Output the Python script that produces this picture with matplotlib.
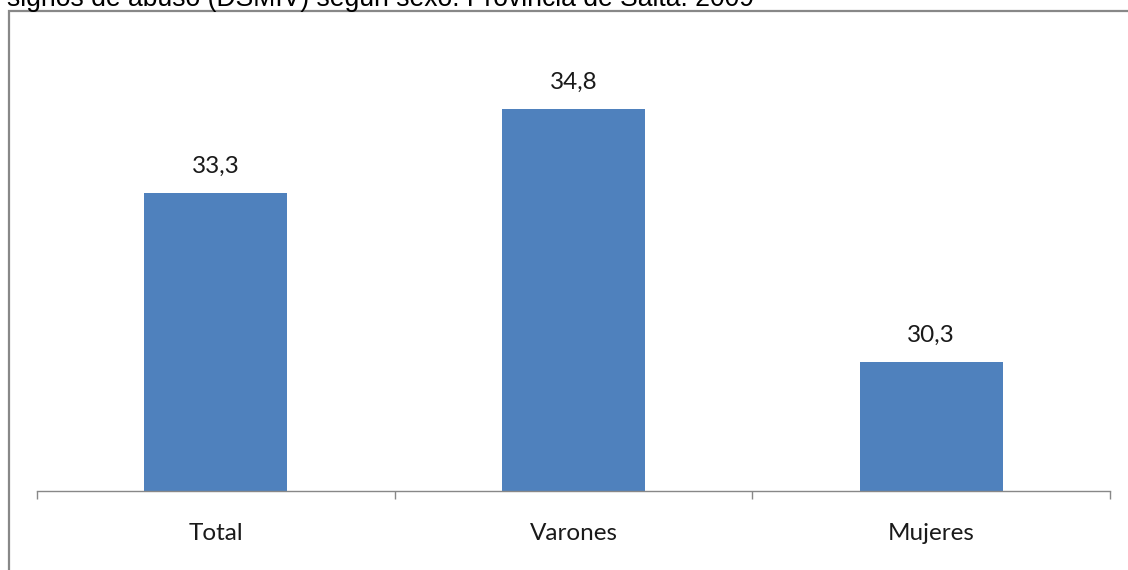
import matplotlib
matplotlib.use("Agg")
import matplotlib.pyplot as plt
from matplotlib.patches import Rectangle

categories = ["Total", "Varones", "Mujeres"]
values = [33.3, 34.8, 30.3]
value_labels = ["33,3", "34,8", "30,3"]
title_text = "signos de abuso (DSMIV) según sexo. Provincia de Salta. 2009"

W, H = 1128, 570
fig = plt.figure(figsize=(W / 100, H / 100), dpi=100)
fig.patch.set_facecolor("white")

# outer chart border (cut off at right/bottom)
fig.patches.append(Rectangle((8.5 / W, -0.1), 1.2, (H - 11.5) / H + 0.1,
                             transform=fig.transFigure, fill=False,
                             edgecolor="#888888", linewidth=1.6))

# title (clipped at top)
t = fig.text(7 / W, 1 - 6 / H, title_text, fontsize=17, family="Liberation Sans",
             ha="left", va="baseline", color="black")
fig.canvas.draw()
bb = t.get_window_extent()
t.set_fontsize(17 * 750 / bb.width)

ax = fig.add_axes([37 / W, 79 / H, 1073 / W, 450 / H])
x = list(range(len(categories)))
ax.bar(x, values, width=0.4, color="#4F81BD", zorder=2)
ax.set_xlim(-0.5, len(categories) - 0.5)
ax.set_ylim(28, 36)

for s in ["top", "right", "left"]:
    ax.spines[s].set_visible(False)
ax.spines["bottom"].set_color("#888888")
ax.spines["bottom"].set_linewidth(1.0)
ax.set_yticks([])
ax.set_xticks([-0.5 + i for i in range(len(categories) + 1)], minor=False)
ax.set_xticklabels([])
ax.tick_params(axis="x", length=6, color="#888888", width=1.0)
ax.set_xticks(x, minor=True)
ax.set_xticklabels(categories, minor=True, fontsize=17.5, family="Lato", color="#1a1a1a")
ax.tick_params(axis="x", which="minor", length=0, pad=23)

for xi, v, lab in zip(x, values, value_labels):
    ax.annotate(lab, (xi, v), xytext=(0, 16), textcoords="offset pixels",
                ha="center", va="bottom", fontsize=17.5, family="Lato", color="#1a1a1a")

fig.savefig("out.png", dpi=100)
